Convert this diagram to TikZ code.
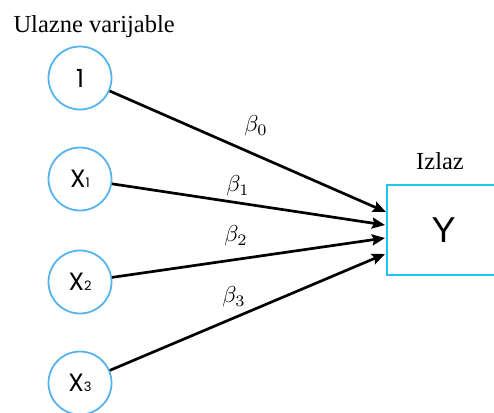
\documentclass[tikz,border=0pt]{standalone}
\usepackage{graphicx}
\usepackage{fontspec}
\setmainfont{Liberation Serif}
\newfontfamily\inputfont{Poppins}
\newfontfamily\outputfont{Liberation Sans}
\usetikzlibrary{arrows.meta}
\definecolor{circblue}{HTML}{55B4EE}
\definecolor{boxblue}{HTML}{22C4F4}
\newcommand{\wlabel}[1]{\scalebox{2.3}{$\beta_{#1}$}}

\begin{document}
\begin{tikzpicture}[x=1pt,y=-1pt,
  invar/.style={circle,draw=circblue,line width=1.8pt,minimum size=63pt,inner sep=0pt,font=\inputfont\fontsize{25}{25}\selectfont},
  weight/.style={inner sep=1pt},
  arr/.style={line width=2.7pt,-{Stealth[length=13pt,width=11pt,inset=2pt]}}]

\useasboundingbox (0,0) rectangle (494,412);

\node[anchor=west,font=\fontsize{24.5}{24.5}\selectfont] (inlabel) at (10,27) {Ulazne varijable};
\node[font=\fontsize{24.5}{24.5}\selectfont] (outlabel) at (440,161) {Izlaz};

% input nodes
\node[invar] (x0) at (80,78) {1};
\foreach \i/\y in {1/179,2/282,3/383}
	\node[invar] (x\i) at (80,\y) {X{\fontsize{13}{13}\selectfont\i}};

% output box
\node[draw=boxblue,line width=1.8pt,minimum width=113pt,minimum height=90pt,inner sep=0pt,
      font=\outputfont\fontsize{36}{36}\selectfont] (out) at (443.5,230) {Y};

% arrow tips on the box
\coordinate (t0) at (386,212);
\coordinate (t1) at (385,225);
\coordinate (t2) at (385,238);
\coordinate (t3) at (385,254);

\foreach \i in {0,...,3}
	\draw[arr] (x\i) -- (t\i);

% weights
\node[weight] (b0) at (256,126) {\wlabel{0}};
\node[weight] (b1) at (238,186) {\wlabel{1}};
\node[weight] (b2) at (236,236) {\wlabel{2}};
\node[weight] (b3) at (234,297) {\wlabel{3}};

\end{tikzpicture}
\end{document}
